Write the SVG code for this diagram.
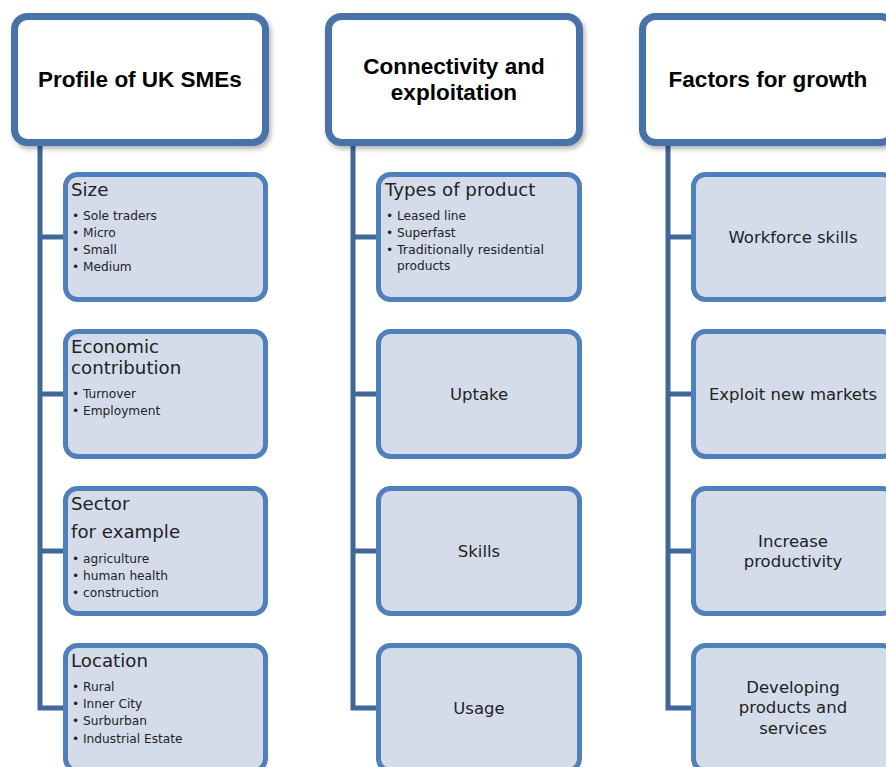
<svg xmlns="http://www.w3.org/2000/svg" width="886" height="767" viewBox="0 0 886 767">
<defs>
<filter id="sh" x="-10%" y="-10%" width="130%" height="130%">
<feDropShadow dx="2" dy="3" stdDeviation="2.5" flood-color="#000" flood-opacity="0.3"/>
</filter>
</defs>
<style>
.hdr{fill:#fff;stroke:#4673a8;stroke-width:7}
.box{fill:#d4dcea;stroke:#4f80bb;stroke-width:5}
.ln{stroke:#3f6797;stroke-width:5;fill:none}
.ht{font-family:"Liberation Sans",Arial,sans-serif;font-weight:bold;font-size:22.5px;fill:#000;text-anchor:middle}
.t{font-family:"DejaVu Sans",sans-serif;font-size:16.5px;fill:#222}
.tt{font-family:"DejaVu Sans",sans-serif;font-size:18.2px;fill:#222}
.c{text-anchor:middle}
.b{font-family:"DejaVu Sans",sans-serif;font-size:12.2px;fill:#222}
</style>
<rect width="886" height="767" fill="#fff"/>
<g id="connectors">
<path class="ln" d="M40,142 V708 H66 M40,237 H66 M40,394 H66 M40,551 H66"/>
<path class="ln" d="M353,142 V708 H379 M353,237 H379 M353,394 H379 M353,551 H379"/>
<path class="ln" d="M668,142 V708 H694 M668,237 H694 M668,394 H694 M668,551 H694"/>
</g>
<g id="h1"><rect class="hdr" filter="url(#sh)" x="14.5" y="16.5" width="251" height="126" rx="13"/><text class="ht" x="140" y="87">Profile of UK SMEs</text></g>
<g id="h2"><rect class="hdr" filter="url(#sh)" x="328.5" y="16.5" width="251" height="126" rx="13"/><text class="ht" x="454" y="74">Connectivity and</text><text class="ht" x="454" y="100">exploitation</text></g>
<g id="h3"><rect class="hdr" filter="url(#sh)" x="642.5" y="16.5" width="251" height="126" rx="13"/><text class="ht" x="768" y="87">Factors for growth</text></g>

<g id="size"><rect class="box" x="65.5" y="174.5" width="200" height="125" rx="12"/>
<text class="tt" x="71" y="196">Size</text>
<text class="b"><tspan x="72" y="220">•</tspan><tspan x="83" y="220">Sole traders</tspan><tspan x="72" y="237">•</tspan><tspan x="83" y="237">Micro</tspan><tspan x="72" y="254">•</tspan><tspan x="83" y="254">Small</tspan><tspan x="72" y="271">•</tspan><tspan x="83" y="271">Medium</tspan></text></g>
<g id="econ"><rect class="box" x="65.5" y="331.5" width="200" height="125" rx="12"/>
<text class="tt" x="71" y="353">Economic</text><text class="tt" x="71" y="374">contribution</text>
<text class="b"><tspan x="72" y="398">•</tspan><tspan x="83" y="398">Turnover</tspan><tspan x="72" y="415">•</tspan><tspan x="83" y="415">Employment</tspan></text></g>
<g id="sector"><rect class="box" x="65.5" y="488.5" width="200" height="125" rx="12"/>
<text class="tt" x="71" y="510">Sector</text><text class="tt" x="71" y="538">for example</text>
<text class="b"><tspan x="72" y="563">•</tspan><tspan x="83" y="563">agriculture</tspan><tspan x="72" y="580">•</tspan><tspan x="83" y="580">human health</tspan><tspan x="72" y="597">•</tspan><tspan x="83" y="597">construction</tspan></text></g>
<g id="location"><rect class="box" x="65.5" y="645.5" width="200" height="125" rx="12"/>
<text class="tt" x="71" y="667">Location</text>
<text class="b"><tspan x="72" y="691">•</tspan><tspan x="83" y="691">Rural</tspan><tspan x="72" y="708">•</tspan><tspan x="83" y="708">Inner City</tspan><tspan x="72" y="725">•</tspan><tspan x="83" y="725">Surburban</tspan><tspan x="72" y="743">•</tspan><tspan x="83" y="743">Industrial Estate</tspan></text></g>

<g id="types"><rect class="box" x="378.5" y="174.5" width="201" height="125" rx="12"/>
<text class="tt" x="385" y="196">Types of product</text>
<text class="b"><tspan x="386" y="220">•</tspan><tspan x="397" y="220">Leased line</tspan><tspan x="386" y="237">•</tspan><tspan x="397" y="237">Superfast</tspan><tspan x="386" y="254">•</tspan><tspan x="397" y="254" textLength="147" lengthAdjust="spacingAndGlyphs">Traditionally residential</tspan><tspan x="397" y="270">products</tspan></text></g>
<g id="uptake"><rect class="box" x="378.5" y="331.5" width="201" height="125" rx="12"/><text class="t c" x="479" y="400">Uptake</text></g>
<g id="skills"><rect class="box" x="378.5" y="488.5" width="201" height="125" rx="12"/><text class="t c" x="479" y="557">Skills</text></g>
<g id="usage"><rect class="box" x="378.5" y="645.5" width="201" height="125" rx="12"/><text class="t c" x="479" y="714">Usage</text></g>

<g id="workforce"><rect class="box" x="693.5" y="174.5" width="201" height="125" rx="12"/><text class="t c" x="793" y="243">Workforce skills</text></g>
<g id="exploit"><rect class="box" x="693.5" y="331.5" width="201" height="125" rx="12"/><text class="t c" x="793" y="400">Exploit new markets</text></g>
<g id="productivity"><rect class="box" x="693.5" y="488.5" width="201" height="125" rx="12"/><text class="t c" x="793" y="547">Increase</text><text class="t c" x="793" y="567">productivity</text></g>
<g id="developing"><rect class="box" x="693.5" y="645.5" width="201" height="125" rx="12"/><text class="t c" x="793" y="693">Developing</text><text class="t c" x="793" y="713">products and</text><text class="t c" x="793" y="734">services</text></g>
</svg>
